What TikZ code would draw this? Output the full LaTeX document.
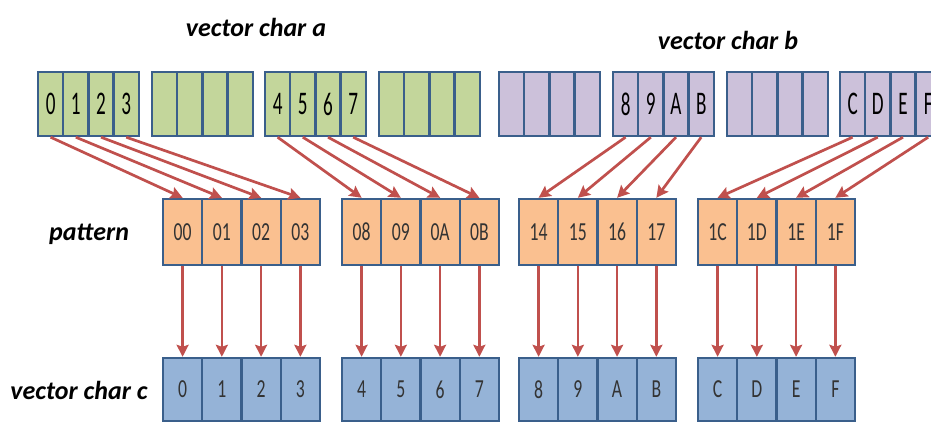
\documentclass[tikz,border=0pt]{standalone}
\usepackage{fontspec}
\usepackage{graphicx}
\usetikzlibrary{arrows.meta}
\newfontfamily\lblfont{Carlito}
\newfontfamily\topfont[FakeStretch=0.58]{Carlito}
\newfontfamily\cellfont[FakeStretch=0.68]{Carlito}
\definecolor{grn}{HTML}{C3D69B}
\definecolor{pur}{HTML}{CCC1DA}
\definecolor{org}{HTML}{FAC090}
\definecolor{blu}{HTML}{95B3D7}
\definecolor{bdr}{HTML}{3A5F8B}
\definecolor{arrc}{HTML}{C0504D}
\definecolor{txtc}{HTML}{333333}
\tikzset{
  cellbase/.style={draw=bdr, line width=2.4pt, inner sep=0pt},
  topcell/.style={cellbase, minimum width=25.2pt, minimum height=64pt, text=black, font=\topfont\fontsize{33}{33}\selectfont},
  patcell/.style={cellbase, fill=org, minimum width=39.25pt, minimum height=66pt, text=txtc, font=\cellfont\fontsize{26}{26}\selectfont},
  outcell/.style={cellbase, fill=blu, minimum width=39.25pt, minimum height=63pt, text=txtc, font=\cellfont\fontsize{26}{26}\selectfont},
  arrline/.style={draw=arrc, line width=2.7pt, -{Stealth[length=12pt,width=12pt,inset=2pt]}},
  lbl/.style={inner sep=0pt, font=\lblfont\bfseries\itshape\fontsize{26}{26}\selectfont}
}
\begin{document}
\begin{tikzpicture}[x=1pt,y=-1pt]
\useasboundingbox (0,0) rectangle (931,423);
% top row
\foreach \g/\l/\col/\ta/\tb/\tc/\td in {1/38/grn/0/1/2/3, 2/152/grn/{}/{}/{}/{}, 3/265/grn/4/5/6/7, 4/379/grn/{}/{}/{}/{}, 5/499/pur/{}/{}/{}/{}, 6/613/pur/8/9/A/B, 7/727/pur/{}/{}/{}/{}, 8/840/pur/C/D/E/F}{
  \foreach \i/\t in {0/\ta,1/\tb,2/\tc,3/\td}{
    \node[topcell, fill=\col] (t\g-\i) at (\l+12.6+\i*25.2, 104) {\t};
  }
}
% pattern row
\foreach \g/\l/\ta/\tb/\tc/\td in {1/163/00/01/02/03, 2/342/08/09/0A/0B, 3/519/14/15/16/17, 4/698/1C/1D/1E/1F}{
  \foreach \i/\t in {0/\ta,1/\tb,2/\tc,3/\td}{
    \node[patcell] (p\g-\i) at (\l+19.6+\i*39.25, 232) {\t};
  }
}
% output row
\foreach \g/\l/\ta/\tb/\tc/\td in {1/163/0/1/2/3, 2/342/4/5/6/7, 3/519/8/9/A/B, 4/698/C/D/E/F}{
  \foreach \i/\t in {0/\ta,1/\tb,2/\tc,3/\td}{
    \node[outcell] (c\g-\i) at (\l+19.6+\i*39.25, 389.5) {\t};
  }
}
% arrows
\foreach \g/\p in {1/1,3/2,6/3,8/4}{
  \foreach \i in {0,...,3}{
    \draw[arrline] (t\g-\i.south) -- (p\p-\i.north);
  }
}
\foreach \p in {1,...,4}{
  \foreach \i in {0,...,3}{
    \draw[arrline] (p\p-\i.south) -- (c\p-\i.north);
  }
}
% labels
\node[lbl] (la) at (256,27) {vector char a};
\node[lbl] (lb) at (728,40) {vector char b};
\node[lbl] (lp) at (89,234) {pattern};
\node[lbl] (lc) at (79,390) {vector char c};
\end{tikzpicture}
\end{document}
